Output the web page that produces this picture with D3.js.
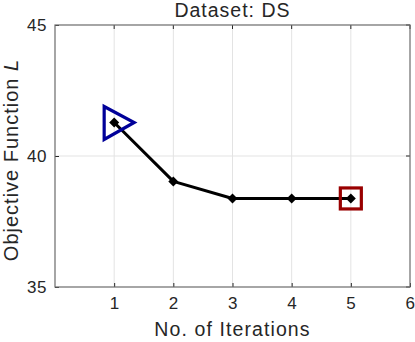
<!DOCTYPE html>
<html>
<head>
<meta charset="utf-8">
<script src="https://cdn.jsdelivr.net/npm/d3@7"></script>
<style>
  body { margin: 0; background: #fff; }
  text { font-family: "Liberation Sans", Arial, sans-serif; fill: #262626; }
</style>
</head>
<body>
<div id="chart"></div>
<script>
// data
var iterations = [1, 2, 3, 4, 5];
var objective = [41.28, 39.03, 38.38, 38.38, 38.38];
var xTicks = [1, 2, 3, 4, 5, 6];
var yTicks = [35, 40, 45];

var width = 415, height = 342,
  margin = { top: 25, right: 5, bottom: 55, left: 55 };

var svg = d3.select('#chart').append('svg')
  .attr('width', width)
  .attr('height', height);

var x = d3.scaleLinear().domain([0, 6]).range([margin.left, width - margin.right]);
var y = d3.scaleLinear().domain([35, 45]).range([height - margin.bottom, margin.top]);

// grid
svg.append('g')
  .selectAll('line')
  .data(xTicks.slice(0, -1))
  .join('line')
  .attr('x1', d => x(d)).attr('x2', d => x(d))
  .attr('y1', y(35)).attr('y2', y(45))
  .attr('stroke', '#e3e3e3').attr('stroke-width', 1);

svg.append('g')
  .selectAll('line')
  .data([40])
  .join('line')
  .attr('x1', x(0)).attr('x2', x(6))
  .attr('y1', d => y(d)).attr('y2', d => y(d))
  .attr('stroke', '#e3e3e3').attr('stroke-width', 1);

// axes (ticks inward, box on all sides)
var tick = 4;
var xAxis = d3.axisBottom(x).tickValues(xTicks).tickSize(-tick).tickPadding(10).tickFormat(d3.format('d'));
var yAxis = d3.axisLeft(y).tickValues(yTicks).tickSize(-tick).tickPadding(8).tickFormat(d3.format('d'));

svg.append('g')
  .attr('transform', 'translate(0,' + y(35) + ')')
  .call(xAxis)
  .call(g => g.select('.domain').remove())
  .call(g => g.selectAll('.tick line').attr('stroke', '#262626'))
  .call(g => g.selectAll('.tick text').style('font-size', '17px').style('letter-spacing', '0.6px').attr('fill', '#262626'));

svg.append('g')
  .attr('transform', 'translate(' + x(0) + ',0)')
  .call(yAxis)
  .call(g => g.select('.domain').remove())
  .call(g => g.selectAll('.tick line').attr('stroke', '#262626'))
  .call(g => g.selectAll('.tick text').style('font-size', '17px').style('letter-spacing', '0.6px').attr('fill', '#262626'));

// top and right ticks
svg.append('g').selectAll('line')
  .data(xTicks)
  .join('line')
  .attr('x1', d => x(d)).attr('x2', d => x(d))
  .attr('y1', y(45)).attr('y2', y(45) + tick)
  .attr('stroke', '#262626');

svg.append('g').selectAll('line')
  .data(yTicks)
  .join('line')
  .attr('x1', x(6)).attr('x2', x(6) - tick)
  .attr('y1', d => y(d)).attr('y2', d => y(d))
  .attr('stroke', '#262626');

svg.append('rect')
  .attr('x', x(0)).attr('y', y(45))
  .attr('width', x(6) - x(0)).attr('height', y(35) - y(45))
  .attr('fill', 'none').attr('stroke', '#6b6b6b').attr('stroke-width', 1.2);

// line
var line = d3.line().x((d, i) => x(iterations[i])).y(d => y(d));
svg.append('path')
  .datum(objective)
  .attr('fill', 'none')
  .attr('stroke', '#000')
  .attr('stroke-width', 3)
  .attr('stroke-linejoin', 'round')
  .attr('d', line);

// diamond markers
svg.append('g').selectAll('path')
  .data(objective)
  .join('path')
  .attr('transform', (d, i) => 'translate(' + x(iterations[i]) + ',' + y(d) + ')')
  .attr('d', 'M0,-5L5,0L0,5L-5,0Z')
  .attr('fill', '#000');

// start marker (triangle) and end marker (square)
svg.append('path')
  .attr('transform', 'translate(' + x(iterations[0]) + ',' + y(objective[0]) + ')')
  .attr('d', 'M-10,-16L-10,17L20,0Z')
  .attr('fill', 'none')
  .attr('stroke', '#000099')
  .attr('stroke-width', 3.2)
  .attr('stroke-linejoin', 'miter');

var last = iterations.length - 1;
svg.append('rect')
  .attr('x', x(iterations[last]) - 10.5)
  .attr('y', y(objective[last]) - 10.5)
  .attr('width', 21).attr('height', 21)
  .attr('fill', 'none')
  .attr('stroke', '#990000')
  .attr('stroke-width', 3.2);

// labels
svg.append('text')
  .attr('x', (x(0) + x(6)) / 2)
  .attr('y', 17)
  .attr('text-anchor', 'middle')
  .style('font-size', '19.5px')
  .style('letter-spacing', '1px')
  .text('Dataset: DS');

svg.append('text')
  .attr('x', (x(0) + x(6)) / 2)
  .attr('y', 336)
  .attr('text-anchor', 'middle')
  .style('font-size', '19.5px')
  .style('letter-spacing', '1.1px')
  .text('No. of Iterations');

var yl = svg.append('text')
  .attr('transform', 'translate(17.5,160) rotate(-90)')
  .attr('text-anchor', 'middle')
  .style('font-size', '20px')
  .style('letter-spacing', '1px');
yl.append('tspan').text('Objective Function ');
yl.append('tspan').style('font-style', 'italic').text('L');
</script>
</body>
</html>
